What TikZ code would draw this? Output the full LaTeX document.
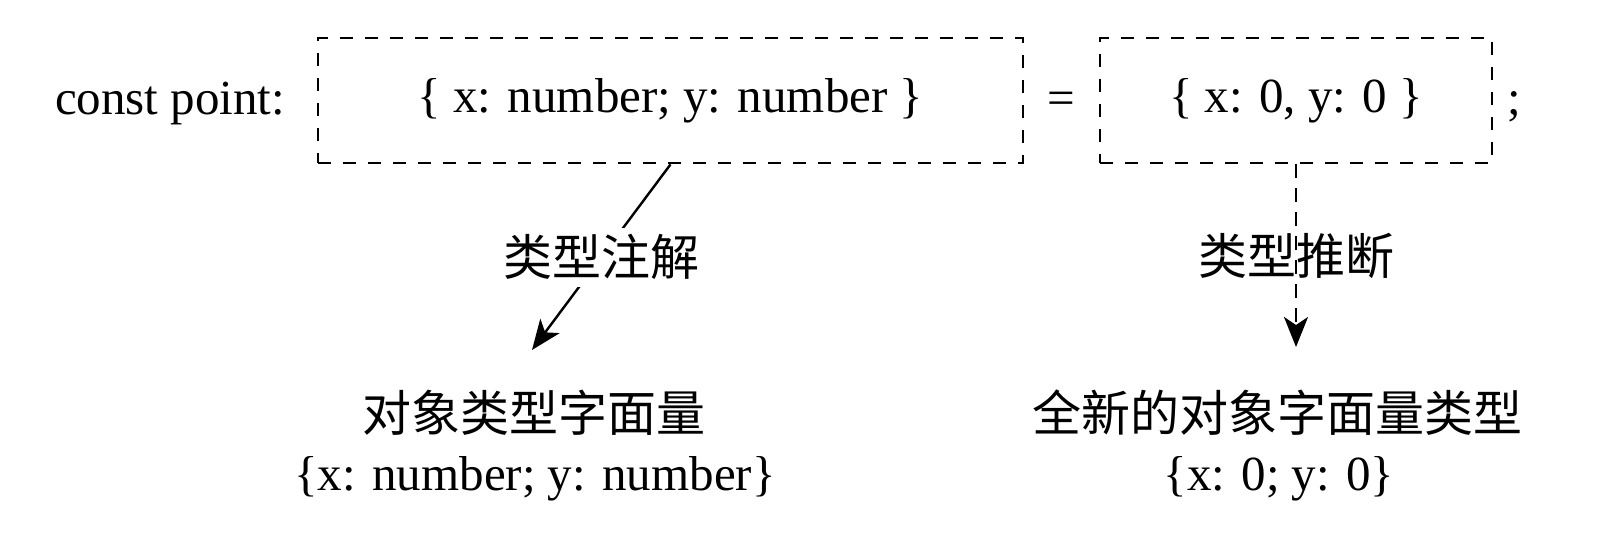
\documentclass[tikz,border=0pt]{standalone}
\usepackage{fontspec}
\setmainfont{Liberation Serif}
\newfontfamily\cjk{Noto Sans CJK SC}
\usetikzlibrary{arrows.meta}

\begin{document}
\begin{tikzpicture}[x=0.5pt, y=-0.5pt, thick, >={Stealth[length=15pt, width=12pt, inset=4pt]}, every node/.style={font=\fontsize{24.5}{29}\selectfont}, type box/.style={draw, dash pattern=on 6.5pt off 6pt, line width=1.4pt, minimum height=62.5pt}, cn/.style={font=\fontsize{24.5}{29}\selectfont\cjk}]

                \useasboundingbox (0, 0) rectangle (1600, 540);

                \node[anchor=base east, inner sep=0] at (286, 115) (decl) {const point:};
                \node[type box, minimum width=352.5pt] at (670.5, 100.5) (annot) {\{ x: number; y: number \}};
                \node[anchor=base, inner sep=0] at (1061, 115) (eq) {=};
                \node[type box, minimum width=196pt] at (1296, 100.5) (infer) {\{ x: 0, y: 0 \}};
                \node[anchor=base west, inner sep=0] at (1507, 115) (semi) {;};
                \coordinate (annot end) at (532, 350);
                \coordinate (infer end) at (1296, 347);
                \node[cn, anchor=base] at (534, 431) (literal) {对象类型字面量};
                \node[anchor=base] at (535, 490) (literal type) {\{x: number; y: number\}};
                \node[cn, anchor=base] at (1277, 431) (fresh) {全新的对象字面量类型};
                \node[anchor=base] at (1279, 490) (fresh type) {\{x: 0; y: 0\}};

                \path[->] (annot.south) edge[line width=1.2pt] node[cn, fill=white] {类型注解} (annot end);
                \path[->] (infer.south) edge[line width=1.3pt, dash pattern=on 7pt off 5pt] node[cn] {类型推断} (infer end);
            \end{tikzpicture}
\end{document}
